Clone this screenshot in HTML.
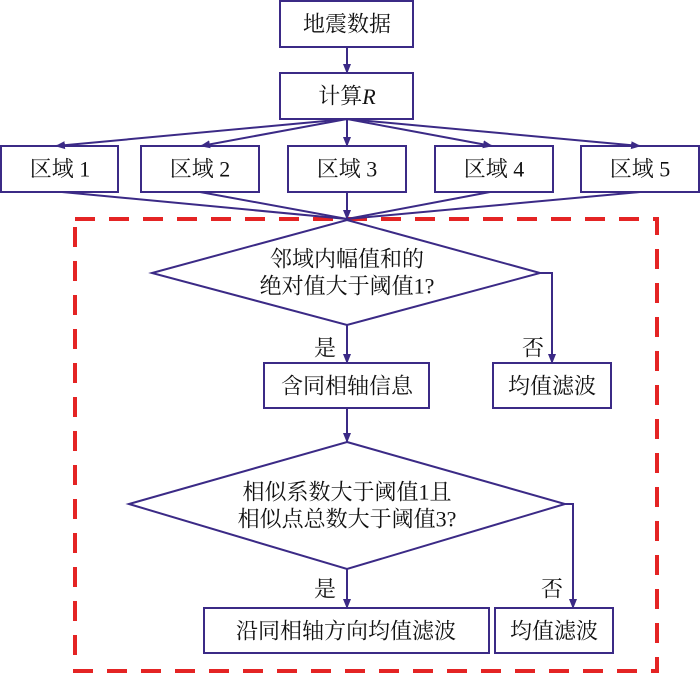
<!DOCTYPE html><html><head><meta charset="utf-8"><style>body{margin:0;background:#fff}svg{display:block}text{font-family:"Liberation Serif","Noto Serif CJK SC",serif;font-size:22px;fill:#111;text-anchor:middle;dominant-baseline:central}</style></head><body>
<svg width="700" height="678" viewBox="0 0 700 678">
<defs><marker id="a" markerWidth="10" markerHeight="10" refX="9" refY="5" orient="auto" markerUnits="userSpaceOnUse"><path d="M0,1 L10,5 L0,9 z" fill="#3b2a86"/></marker></defs>
<rect x="75" y="219" width="582" height="452" fill="none" stroke="#e42424" stroke-width="4" stroke-dasharray="20,14"/>
<g fill="none" stroke="#3b2a86" stroke-width="2">
<rect x="280" y="1" width="133" height="46" fill="#fff"/>
<rect x="280" y="73" width="133" height="46" fill="#fff"/>
<rect x="1" y="146" width="117" height="46" fill="#fff"/>
<rect x="141" y="146" width="118" height="46" fill="#fff"/>
<rect x="288" y="146" width="118" height="46" fill="#fff"/>
<rect x="435" y="146" width="118" height="46" fill="#fff"/>
<rect x="581" y="146" width="118" height="46" fill="#fff"/>
<line x1="347" y1="47" x2="347" y2="73" marker-end="url(#a)"/>
<line x1="347" y1="119" x2="56" y2="146" marker-end="url(#a)"/>
<line x1="347" y1="119" x2="201" y2="146" marker-end="url(#a)"/>
<line x1="347" y1="119" x2="347" y2="146" marker-end="url(#a)"/>
<line x1="347" y1="119" x2="492" y2="146" marker-end="url(#a)"/>
<line x1="347" y1="119" x2="640" y2="146" marker-end="url(#a)"/>
<line x1="62" y1="192" x2="347" y2="219"/>
<line x1="200" y1="192" x2="347" y2="219"/>
<line x1="347" y1="192" x2="347" y2="219" marker-end="url(#a)"/>
<line x1="490" y1="192" x2="347" y2="219"/>
<line x1="640" y1="192" x2="347" y2="219"/>
<polygon points="347,220 540,273 347,325 152,273" fill="#fff"/>
<polyline points="540,273 552,273 552,363" marker-end="url(#a)"/>
<line x1="347" y1="325" x2="347" y2="363" marker-end="url(#a)"/>
<rect x="264" y="363" width="165" height="45"/>
<rect x="493" y="363" width="118" height="45"/>
<line x1="347" y1="408" x2="347" y2="442" marker-end="url(#a)"/>
<polygon points="347,442 565,504 347,569 129,504"/>
<polyline points="565,504 573,504 573,608" marker-end="url(#a)"/>
<line x1="347" y1="569" x2="347" y2="608" marker-end="url(#a)"/>
<rect x="204" y="608" width="285" height="45"/>
<rect x="495" y="608" width="118" height="45"/>
</g>
<text x="347" y="24">地震数据</text>
<text x="347" y="96">计算<tspan font-style="italic">R</tspan></text>
<text x="60" y="169">区域 1</text>
<text x="200" y="169">区域 2</text>
<text x="347" y="169">区域 3</text>
<text x="494" y="169">区域 4</text>
<text x="640" y="169">区域 5</text>
<text x="347" y="259">邻域内幅值和的</text>
<text x="347" y="286">绝对值大于阈值1?</text>
<text x="325" y="348">是</text>
<text x="533" y="348">否</text>
<text x="347" y="386">含同相轴信息</text>
<text x="552" y="386">均值滤波</text>
<text x="347" y="492">相似系数大于阈值1且</text>
<text x="347" y="519">相似点总数大于阈值3?</text>
<text x="325" y="589">是</text>
<text x="552" y="589">否</text>
<text x="346" y="631">沿同相轴方向均值滤波</text>
<text x="554" y="631">均值滤波</text>
</svg>
</body></html>
